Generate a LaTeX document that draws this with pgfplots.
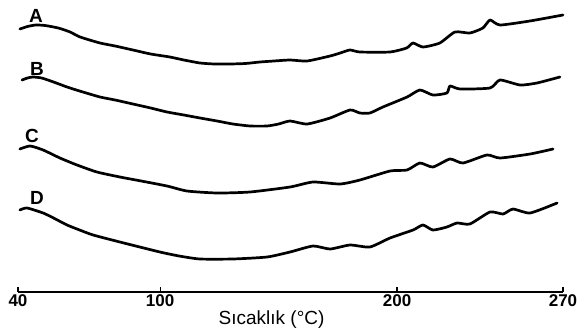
\documentclass[border=0pt]{standalone}
\usepackage{fontspec}
\setmainfont{Liberation Sans}
\usepackage{pgfplots}
\pgfplotsset{compat=1.18}
\begin{document}
\begin{tikzpicture}
\begin{axis}[
 scale only axis, width=545pt, height=292pt,
 xmin=40, xmax=270, ymin=-292, ymax=0,
 axis y line=none, axis x line*=bottom,
 xtick={40,100,200,270}, xtick align=inside, major tick length=5pt,
 tick style={line width=1.3pt, black},
 axis line style={line width=1.5pt},
 xticklabel style={font=\bfseries\fontsize{17}{17}\selectfont, inner sep=1pt, yshift=-1pt},
 /pgf/number format/assume math mode=true,
 clip=false,
 every axis plot post/.append style={black, line width=2.7pt, mark=none, line join=round, line cap=round, smooth, tension=0.35},
]
% A
\addplot coordinates {
(40.8,-29) (44,-26.5) (47.5,-25) (51.4,-25.5) (57,-28) (62,-32) (66.2,-37) (74.6,-43)
(81,-46) (88.5,-50) (96,-54) (104.1,-57) (110,-60) (116.8,-63) (123,-64) (129.5,-64)
(136,-63.5) (142.1,-62) (148,-61) (154.8,-60) (162,-61) (171.7,-56) (176,-53) (180.1,-50)
(184.3,-52) (197,-52) (204,-48) (206.7,-43) (210.9,-47) (218,-43) (224.4,-32) (230.7,-33)
(236.2,-28) (239.2,-20) (243.4,-25) (256,-21) (270,-15)
};
% B
\addplot coordinates {
(41.7,-80) (44,-78) (46.3,-77) (50,-78) (55,-82) (60.7,-87) (66,-91) (74.6,-97)
(81,-100) (88.5,-104) (96,-108) (102.9,-112) (110,-115) (116.8,-118) (124,-121) (130.7,-124)
(138,-126) (145.1,-126) (150,-124) (154.8,-121) (162,-124) (171.7,-118) (180.1,-110)
(184.3,-113) (188.5,-113) (194,-107) (204.2,-97) (209.6,-90) (215.1,-95) (221,-93)
(222.3,-86) (226.5,-89) (239.2,-88) (243.4,-80) (251.9,-85) (259,-83) (268.7,-77)
};
% C
\addplot coordinates {
(40.8,-149) (45.1,-146) (50.6,-150) (57.7,-158) (64.9,-165) (73.3,-172) (83,-177) (92,-181)
(102.9,-186) (111.3,-191) (124,-193) (137.9,-192)
(154.8,-187) (164.5,-182) (175.9,-184) (184.3,-180) (197,-171) (204.2,-170) (209.6,-163)
(215.1,-167) (222.3,-159) (227.8,-163) (237.9,-155) (243.4,-158) (256.1,-154) (265.8,-149)
};
% D
\addplot coordinates {
(40.8,-210) (43.8,-208) (50.6,-213) (55,-218) (60.7,-225) (66,-230) (71.7,-235) (83,-242)
(99.9,-252) (108,-256) (116.8,-259) (130.7,-259) (145.1,-257)
(154.8,-252) (164.5,-246) (171.7,-249) (180.1,-245) (188.5,-247) (197,-238) (206.7,-230)
(210.9,-225) (215.1,-230) (221,-227) (225.3,-223) (230.7,-224) (239.2,-212) (244.7,-214)
(248.9,-209) (256.1,-213) (267.5,-203)
};
\node[font=\bfseries\fontsize{19}{19}\selectfont] at (axis cs:47.6,-16) {A};
\node[font=\bfseries\fontsize{19}{19}\selectfont] at (axis cs:48,-69) {B};
\node[font=\bfseries\fontsize{19}{19}\selectfont] at (axis cs:45.9,-136) {C};
\node[font=\bfseries\fontsize{19}{19}\selectfont] at (axis cs:48,-198) {D};
\node[font=\fontsize{19}{19}\selectfont] at (axis cs:147,-320) {Sıcaklık (°C)};
\coordinate (bl) at (axis cs:40,-292);
\end{axis}
\pgfresetboundingbox
\path[use as bounding box] ([xshift=-18pt,yshift=-41pt]bl) rectangle ([xshift=562pt,yshift=292pt]bl);
\end{tikzpicture}
\end{document}
